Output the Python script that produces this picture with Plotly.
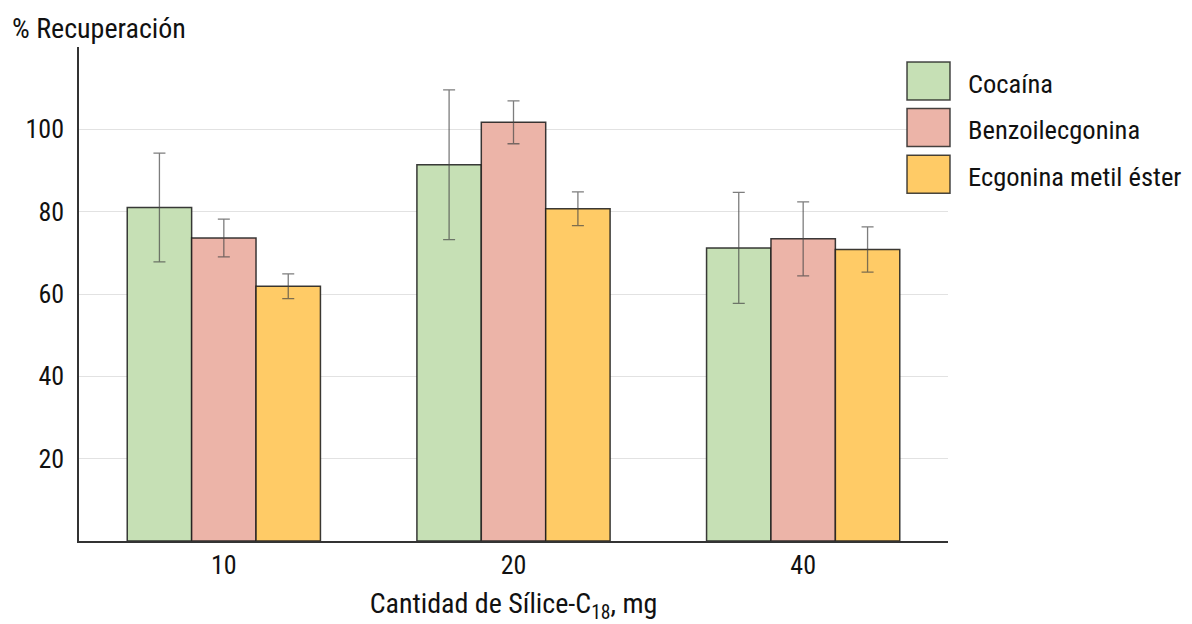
import plotly.graph_objects as go

# Recovery (%) per amount of C18 silica sorbent
cantidades = ["10", "20", "40"]
series = ["Cocaína", "Benzoilecgonina", "Ecgonina metil éster"]
cocaina = [81.0, 91.4, 71.2]
cocaina_err = [13.2, 18.2, 13.5]
benzoil = [73.6, 101.7, 73.4]
benzoil_err = [4.6, 5.2, 9.0]
ecgonina = [61.9, 80.7, 70.8]
ecgonina_err = [3.0, 4.1, 5.5]
y_ticks = [20, 40, 60, 80, 100]

colores = ["#c6e0b5", "#ecb4a8", "#ffcb66"]
valores = [cocaina, benzoil, ecgonina]
errores = [cocaina_err, benzoil_err, ecgonina_err]

FONT = "Liberation Sans Narrow, Roboto Condensed, Arial Narrow, DejaVu Sans Condensed, sans-serif"
FS = 28

fig = go.Figure()
for nombre, vals, errs, col in zip(series, valores, errores, colores):
    fig.add_trace(go.Bar(
        name=nombre, x=cantidades, y=vals,
        marker=dict(color=col, line=dict(color="rgba(25,25,25,0.85)", width=1.5)),
        error_y=dict(type="data", array=errs, visible=True,
                     color="rgba(70,70,70,0.7)", thickness=1.3, width=6),
        showlegend=False,
    ))

# Legend drawn as large swatches with labels
for i, (nombre, col) in enumerate(zip(series, colores)):
    y0 = 62 + i * 46.6
    fig.add_shape(type="rect", xref="paper", yref="paper",
                  x0=(907 - 79) / 869, x1=(950 - 79) / 869,
                  y0=1 - (y0 + 38 - 47) / 494, y1=1 - (y0 - 47) / 494,
                  fillcolor=col, line=dict(color="rgba(25,25,25,0.8)", width=1.5),
                  layer="above")
    fig.add_annotation(xref="paper", yref="paper",
                       x=(966 - 79) / 869, y=1 - (y0 + 21 - 47) / 494,
                       text=nombre, showarrow=False, xanchor="left", yanchor="middle",
                       font=dict(size=26.5, color="#111", family=FONT))

fig.add_annotation(xref="paper", yref="paper", x=(10 - 79) / 869, y=1 + 18 / 494,
                   text="% Recuperación", showarrow=False, xanchor="left", yanchor="middle",
                   font=dict(size=FS, color="#111", family=FONT))

fig.update_layout(
    width=1192, height=624,
    margin=dict(l=79, r=244, t=47, b=83),
    plot_bgcolor="white", paper_bgcolor="white",
    barmode="group", bargap=0.333, bargroupgap=0,
    font=dict(family=FONT, size=FS, color="#111"),
    xaxis=dict(type="category", showline=True, linecolor="#333", linewidth=1.5,
               ticks="", showgrid=False, automargin=False,
               title=dict(text="Cantidad de Sílice-C<sub>18</sub>, mg",
                          font=dict(size=FS, family=FONT), standoff=16),
               tickfont=dict(size=FS - 2, family=FONT)),
    yaxis=dict(range=[0, 120], tickvals=y_ticks, showline=True, linecolor="#333",
               linewidth=1.5, ticks="", showgrid=True, gridcolor="#e2e2e2", gridwidth=1.2,
               zeroline=False, tickfont=dict(size=FS - 2, family=FONT), ticklabelstandoff=8),
)

fig.write_html("out.html")
